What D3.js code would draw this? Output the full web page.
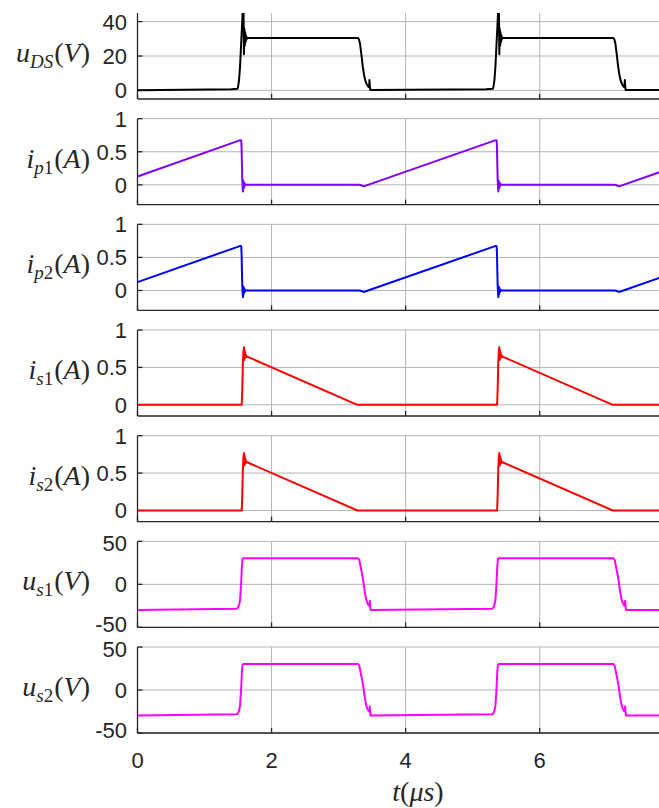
<!DOCTYPE html>
<html>
<head>
<meta charset="utf-8">
<script src="https://cdn.jsdelivr.net/npm/d3@7"></script>
<style>
  html, body { margin: 0; padding: 0; background: #ffffff; }
  svg { display: block; }
</style>
</head>
<body>
<svg id="chart" width="659" height="808"></svg>
<script>
// ---------------- data (t in µs, value) ----------------
const xTicks = [0, 2, 4, 6];

const uDS = [
  [0,0.1],[1.40,0.6],[1.49,0.9],[1.50,2],[1.515,6],[1.53,14],[1.545,26],[1.56,38],[1.572,48],[1.582,47],[1.588,21],[1.594,36],[1.60,26],[1.606,34],[1.612,28],[1.618,32],[1.625,29.5],[1.635,30.6],[1.65,30.4],
  [3.29,30.4],[3.305,29.6],[3.32,27],[3.34,21],[3.36,14],[3.38,9],[3.40,5.5],[3.42,3.5],[3.44,2.3],[3.455,1.8],[3.46,6],[3.466,2.5],[3.472,0.3],
  [5.20,0.7],[5.30,0.9],[5.31,2],[5.325,6],[5.34,14],[5.355,26],[5.37,38],[5.382,48],[5.392,47],[5.398,21],[5.404,36],[5.41,26],[5.416,34],[5.422,28],[5.428,32],[5.435,29.5],[5.445,30.6],[5.46,30.4],
  [7.10,30.4],[7.115,29.6],[7.13,27],[7.15,21],[7.17,14],[7.19,9],[7.21,5.5],[7.23,3.5],[7.25,2.3],[7.265,1.8],[7.27,6],[7.276,2.5],[7.282,0.3],[7.80,0.3]
];

const ip1 = [
  [0,0.126],[1.535,0.675],[1.548,0.668],[1.553,0.55],[1.558,0.3],[1.563,0.08],[1.568,-0.02],[1.573,-0.1],[1.578,0.06],[1.583,-0.06],[1.588,0.04],[1.593,-0.03],[1.598,0.02],[1.605,-0.01],[1.615,0.005],[1.63,0],
  [3.30,0],[3.33,-0.004],[3.36,-0.018],[3.385,-0.02],
  [5.345,0.675],[5.358,0.668],[5.363,0.55],[5.368,0.3],[5.373,0.08],[5.378,-0.02],[5.383,-0.1],[5.388,0.06],[5.393,-0.06],[5.398,0.04],[5.403,-0.03],[5.408,0.02],[5.415,-0.01],[5.425,0.005],[5.44,0],
  [7.11,0],[7.14,-0.004],[7.17,-0.018],[7.195,-0.02],[7.80,0.195]
];

const ip2 = [
  [0,0.126],[1.535,0.675],[1.548,0.668],[1.553,0.55],[1.558,0.3],[1.563,0.08],[1.568,-0.02],[1.573,-0.1],[1.578,0.06],[1.583,-0.06],[1.588,0.04],[1.593,-0.03],[1.598,0.02],[1.605,-0.01],[1.615,0.005],[1.63,0],
  [3.30,0],[3.33,-0.004],[3.36,-0.018],[3.385,-0.02],
  [5.345,0.675],[5.358,0.668],[5.363,0.55],[5.368,0.3],[5.373,0.08],[5.378,-0.02],[5.383,-0.1],[5.388,0.06],[5.393,-0.06],[5.398,0.04],[5.403,-0.03],[5.408,0.02],[5.415,-0.01],[5.425,0.005],[5.44,0],
  [7.11,0],[7.14,-0.004],[7.17,-0.018],[7.195,-0.02],[7.80,0.195]
];

const is1 = [
  [0,0],[1.555,0],[1.563,0.2],[1.572,0.55],[1.58,0.7],[1.588,0.77],[1.592,0.6],[1.597,0.73],[1.602,0.62],[1.607,0.7],[1.612,0.63],[1.618,0.67],[1.625,0.64],[1.635,0.645],
  [3.28,0],[5.365,0],[5.373,0.2],[5.382,0.55],[5.39,0.7],[5.398,0.77],[5.402,0.6],[5.407,0.73],[5.412,0.62],[5.417,0.7],[5.422,0.63],[5.428,0.67],[5.435,0.64],[5.445,0.645],
  [7.09,0],[7.80,0]
];

const is2 = [
  [0,0],[1.555,0],[1.563,0.2],[1.572,0.55],[1.58,0.7],[1.588,0.77],[1.592,0.6],[1.597,0.73],[1.602,0.62],[1.607,0.7],[1.612,0.63],[1.618,0.67],[1.625,0.64],[1.635,0.645],
  [3.28,0],[5.365,0],[5.373,0.2],[5.382,0.55],[5.39,0.7],[5.398,0.77],[5.402,0.6],[5.407,0.73],[5.412,0.62],[5.417,0.7],[5.422,0.63],[5.428,0.67],[5.435,0.64],[5.445,0.645],
  [7.09,0],[7.80,0]
];

const us1 = [
  [0,-29.7],[1.48,-28.3],[1.50,-27],[1.515,-24],[1.53,-18],[1.545,0],[1.558,22],[1.568,29.5],[1.58,30.3],
  [3.29,30.3],[3.31,28],[3.33,20],[3.36,8],[3.39,-8],[3.41,-17],[3.43,-22],[3.45,-24.5],[3.46,-25],[3.465,-19],[3.47,-25],[3.478,-29.7],
  [5.29,-28.3],[5.31,-27],[5.325,-24],[5.34,-18],[5.355,0],[5.368,22],[5.378,29.5],[5.39,30.3],
  [7.10,30.3],[7.12,28],[7.14,20],[7.17,8],[7.20,-8],[7.22,-17],[7.24,-22],[7.26,-24.5],[7.27,-25],[7.275,-19],[7.28,-25],[7.288,-29.7],[7.80,-29.7]
];

const us2 = [
  [0,-29.7],[1.48,-28.3],[1.50,-27],[1.515,-24],[1.53,-18],[1.545,0],[1.558,22],[1.568,29.5],[1.58,30.3],
  [3.29,30.3],[3.31,28],[3.33,20],[3.36,8],[3.39,-8],[3.41,-17],[3.43,-22],[3.45,-24.5],[3.46,-25],[3.465,-19],[3.47,-25],[3.478,-29.7],
  [5.29,-28.3],[5.31,-27],[5.325,-24],[5.34,-18],[5.355,0],[5.368,22],[5.378,29.5],[5.39,30.3],
  [7.10,30.3],[7.12,28],[7.14,20],[7.17,8],[7.20,-8],[7.22,-17],[7.24,-22],[7.26,-24.5],[7.27,-25],[7.275,-19],[7.28,-25],[7.288,-29.7],[7.80,-29.7]
];

const yTicksUDS = [0, 20, 40];
const yTicksI = [0, 0.5, 1];
const yTicksUS = [-50, 0, 50];

// label parts: [italic symbol, italic subscript letters, upright subscript digit, italic unit]
const panels = [
  { data: uDS, domain: [-5, 45],   ticks: yTicksUDS, color: "#000000", label: ["u", "DS", "", "V"] },
  { data: ip1, domain: [-0.3, 1],  ticks: yTicksI,   color: "#7f00ff", label: ["i", "p", "1", "A"] },
  { data: ip2, domain: [-0.3, 1],  ticks: yTicksI,   color: "#0000ff", label: ["i", "p", "2", "A"] },
  { data: is1, domain: [-0.15, 1], ticks: yTicksI,   color: "#ff0000", label: ["i", "s", "1", "A"] },
  { data: is2, domain: [-0.15, 1], ticks: yTicksI,   color: "#ff0000", label: ["i", "s", "2", "A"] },
  { data: us1, domain: [-50, 50],  ticks: yTicksUS,  color: "#ff00ff", label: ["u", "s", "1", "V"] },
  { data: us2, domain: [-50, 50],  ticks: yTicksUS,  color: "#ff00ff", label: ["u", "s", "2", "V"] }
];

// ---------------- layout ----------------
const svg = d3.select("#chart");
const left = 137.5, right = 659;
const top0 = 13, step = 105.67, ph = 86;
const axisColor = "#262626";
const gridColor = "#b4b4b4";
const tickFont = "'Liberation Sans', Arial, Helvetica, sans-serif";
const mathFont = "'Liberation Serif', 'Times New Roman', serif";

const x = d3.scaleLinear().domain([0, 7.78]).range([left, right]);
const fmt = d => (d === 0.5 ? "0.5" : String(d));
// small vertical nudges so that stacked "-50"/"50" labels do not collide
const tickDy = d => (d === -50 ? 5 : d === 50 ? 10 : 8);

panels.forEach((p, i) => {
  const top = top0 + i * step;
  const bottom = top + ph;
  const y = d3.scaleLinear().domain(p.domain).range([bottom, top]);
  const g = svg.append("g");

  const cid = "clip" + i;
  svg.append("clipPath").attr("id", cid)
    .append("rect").attr("x", left).attr("y", top).attr("width", right - left + 5).attr("height", ph);

  // grid
  g.selectAll(".vg").data(xTicks.filter(t => t > 0)).enter().append("line")
    .attr("x1", d => x(d)).attr("x2", d => x(d))
    .attr("y1", top).attr("y2", bottom)
    .attr("stroke", gridColor).attr("stroke-width", 1);
  g.selectAll(".hg").data(p.ticks).enter().append("line")
    .attr("x1", left).attr("x2", right)
    .attr("y1", d => y(d)).attr("y2", d => y(d))
    .attr("stroke", gridColor).attr("stroke-width", 1);

  // axis lines
  g.append("line").attr("x1", left).attr("x2", left).attr("y1", top).attr("y2", bottom)
    .attr("stroke", axisColor).attr("stroke-width", 1.3);
  g.append("line").attr("x1", left).attr("x2", right).attr("y1", bottom).attr("y2", bottom)
    .attr("stroke", axisColor).attr("stroke-width", 1.3);

  // inward ticks
  g.selectAll(".xt").data(xTicks).enter().append("line")
    .attr("x1", d => x(d)).attr("x2", d => x(d))
    .attr("y1", bottom).attr("y2", bottom - 5)
    .attr("stroke", axisColor).attr("stroke-width", 1.3);
  g.selectAll(".yt").data(p.ticks).enter().append("line")
    .attr("x1", left).attr("x2", left + 5)
    .attr("y1", d => y(d)).attr("y2", d => y(d))
    .attr("stroke", axisColor).attr("stroke-width", 1.3);

  // y tick labels
  g.selectAll(".yl").data(p.ticks).enter().append("text")
    .attr("x", 127).attr("y", d => y(d) + tickDy(d))
    .attr("text-anchor", "end")
    .attr("font-family", tickFont).attr("font-size", 22)
    .attr("fill", axisColor)
    .text(fmt);

  // data line
  const line = d3.line().x(d => x(d[0])).y(d => y(d[1]));
  g.append("path").datum(p.data)
    .attr("clip-path", `url(#${cid})`)
    .attr("d", line)
    .attr("fill", "none").attr("stroke", p.color)
    .attr("stroke-width", 2).attr("stroke-linejoin", "round");

  // y label (LaTeX-like)
  const cy = (top + bottom) / 2 + 6;
  const t = g.append("text").attr("x", 90).attr("y", cy)
    .attr("text-anchor", "end")
    .attr("font-family", mathFont).attr("font-size", 28).attr("fill", axisColor);
  t.append("tspan").attr("font-style", "italic").text(p.label[0]);
  t.append("tspan").attr("font-style", "italic").attr("font-size", 19).attr("dy", 6).text(p.label[1]);
  if (p.label[2]) t.append("tspan").attr("font-size", 19).text(p.label[2]);
  t.append("tspan").attr("dy", -6).attr("dx", 1).text("(");
  t.append("tspan").attr("font-style", "italic").text(p.label[3]);
  t.append("tspan").text(")");

  if (i === panels.length - 1) {
    g.selectAll(".xl").data(xTicks).enter().append("text")
      .attr("x", d => x(d)).attr("y", bottom + 35)
      .attr("text-anchor", "middle")
      .attr("font-family", tickFont).attr("font-size", 22)
      .attr("fill", axisColor)
      .text(d => String(d));
  }
});

// x axis label
const xl = svg.append("text").attr("x", 418).attr("y", 801)
  .attr("text-anchor", "middle")
  .attr("font-family", mathFont).attr("font-size", 28).attr("fill", axisColor);
xl.append("tspan").attr("font-style", "italic").text("t");
xl.append("tspan").text("(");
xl.append("tspan").attr("font-style", "italic").text("μs");
xl.append("tspan").text(")");
</script>
</body>
</html>
